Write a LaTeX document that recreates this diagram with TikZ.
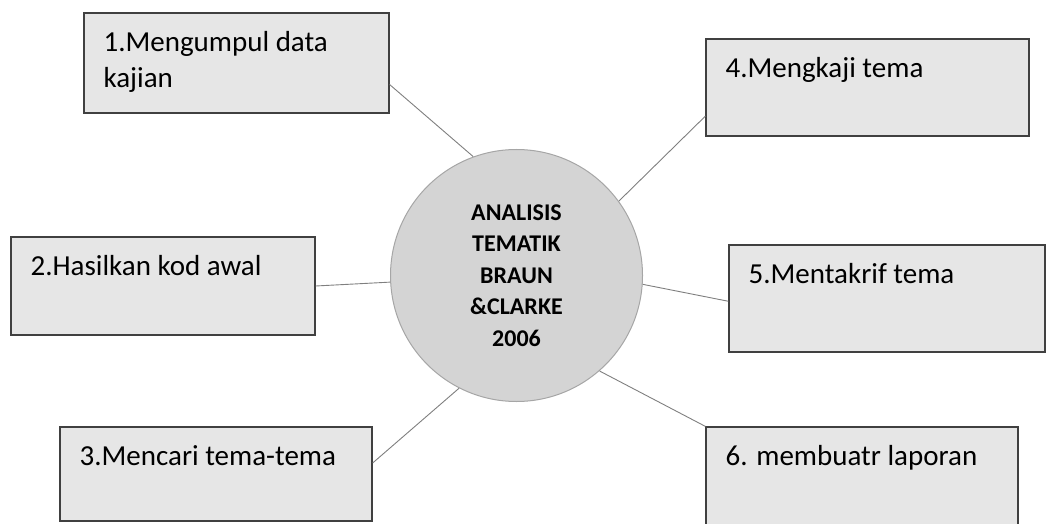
\documentclass[tikz,border=0pt]{standalone}
\usepackage{fontspec}
\setmainfont{Carlito}
\usepackage{tikz}
\usetikzlibrary{positioning}

\definecolor{boxgrey}{HTML}{E6E6E6}
\definecolor{circgrey}{HTML}{D4D4D4}
\definecolor{linegrey}{HTML}{7F7F7F}

\begin{document}
\begin{tikzpicture}[x=1pt,y=1pt,on grid]
        \tikzstyle{stage}=[draw=black!75,line width=1.2pt,fill=boxgrey,inner sep=0pt]
        \tikzstyle{stagetext}=[anchor=base west,inner sep=0pt,xshift=20pt,yshift=-39pt,align=left,font=\fontsize{29}{36}\selectfont]
        \tikzstyle{link}=[draw=linegrey,line width=0.9pt]
        \useasboundingbox (0,0) rectangle (1046,523);
        \node[circle,draw=black!35,line width=1pt,fill=circgrey,minimum size=252pt,inner sep=0pt,align=center,font=\bfseries\fontsize{24}{31.5}\selectfont] (tema) at (516.5,247.5) {ANALISIS\\TEMATIK\\BRAUN\\\&CLARKE\\2006};
        % two lines: base anchor sits on the last line
        \node[stage,minimum width=305pt,minimum height=100pt,label={[stagetext,yshift=-36pt]north west:{1.Mengumpul data\\kajian}}] (s1) [above left=212.5pt and 280pt of tema] {};
        \node[stage,minimum width=304pt,minimum height=98pt,label={[stagetext]north west:2.Hasilkan kod awal}] (s2) [below left=10.5pt and 353.5pt of tema] {};
        \node[stage,minimum width=312pt,minimum height=94pt,label={[stagetext]north west:3.Mencari tema-tema}] (s3) [below left=198.5pt and 300.5pt of tema] {};
        \node[stage,minimum width=323pt,minimum height=97pt,label={[stagetext]north west:4.Mengkaji tema}] (s4) [above right=188pt and 351pt of tema] {};
        \node[stage,minimum width=316pt,minimum height=107pt,label={[stagetext]north west:5.Mentakrif tema}] (s5) [below right=23pt and 370.5pt of tema] {};
        \node[stage,minimum width=312pt,minimum height=98pt,label={[stagetext]north west:6. membuatr laporan}] (s6) [below right=200.5pt and 345.5pt of tema] {};
        \path[link]
        (s1.-8) edge (tema.110.6)
        (s2.east) edge (tema.183.5)
        (s3.4) edge (tema.243.3)
        (s4.190) edge (tema.36.5)
        (s5.181) edge (tema.-4.3)
        (s6.north west) edge (tema.-49.2);
    \end{tikzpicture}
\end{document}
